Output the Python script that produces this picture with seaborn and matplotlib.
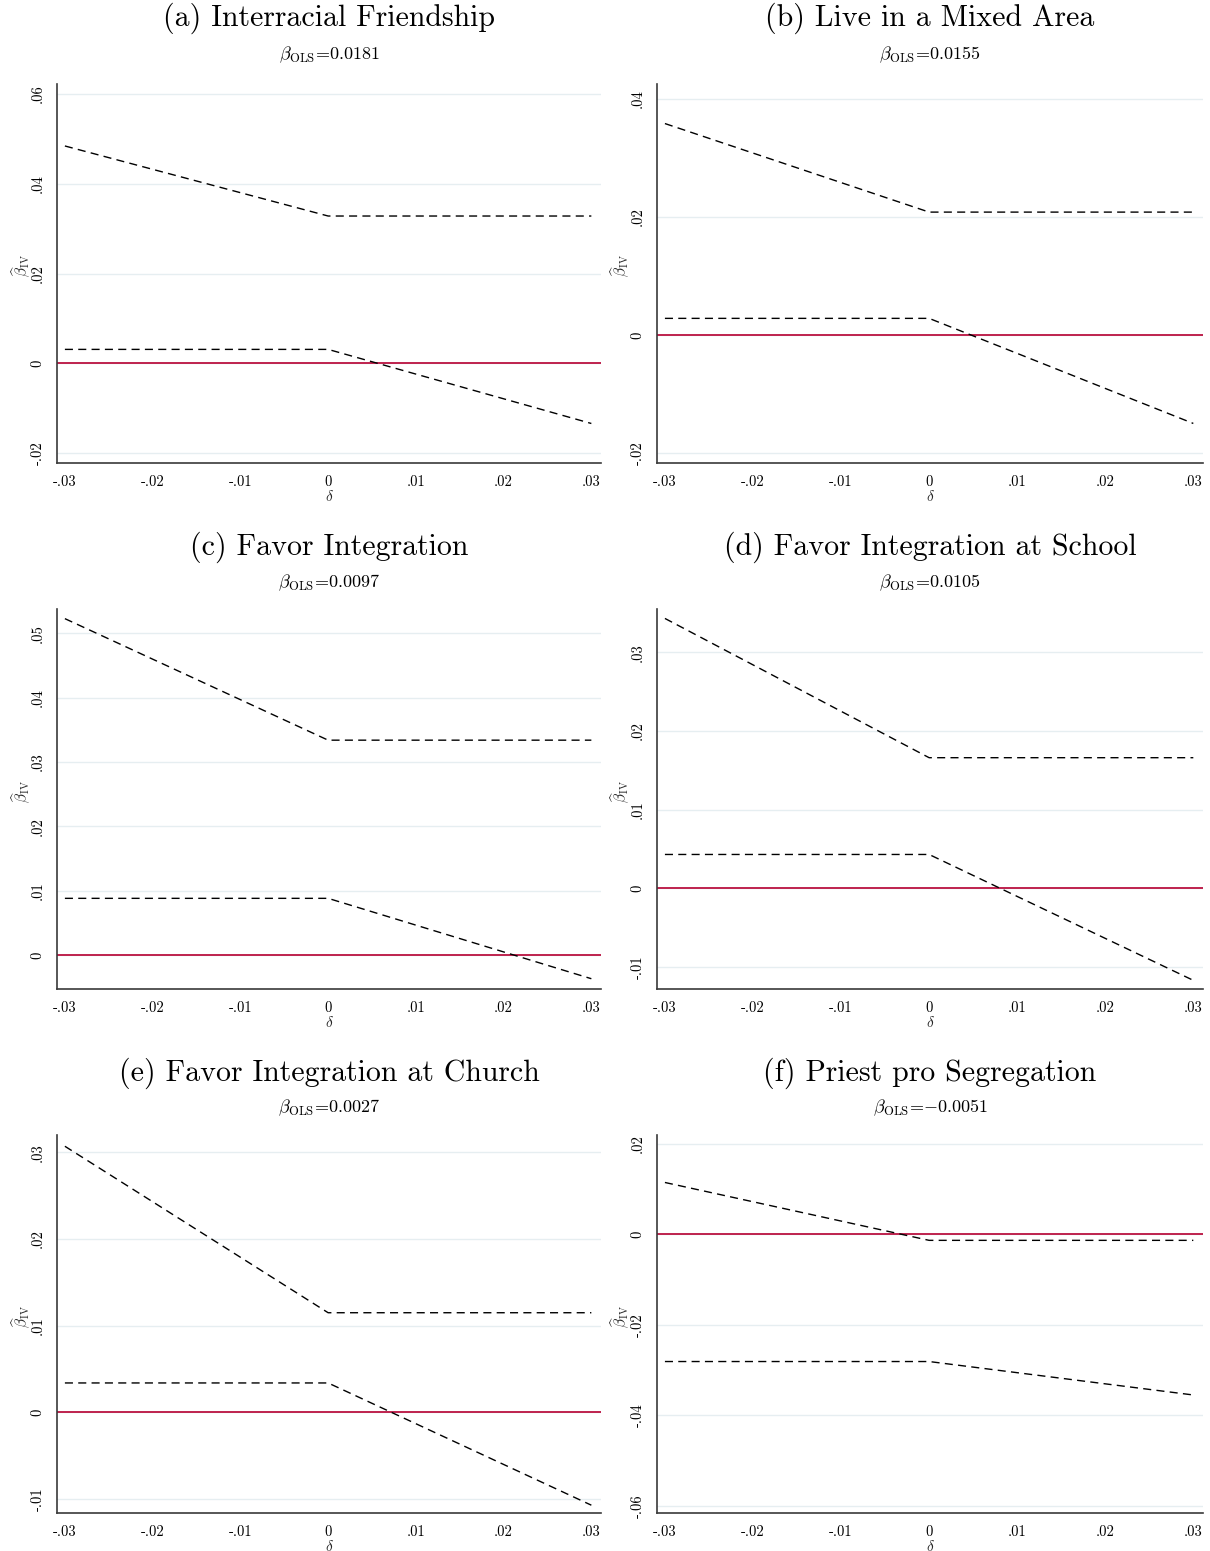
import numpy as np
import pandas as pd
import matplotlib
matplotlib.use("Agg")
import matplotlib.pyplot as plt
import seaborn as sns

# ---- data -------------------------------------------------------------
delta = [-0.03, 0.0, 0.03]

titles = ["(a) Interracial Friendship", "(b) Live in a Mixed Area",
          "(c) Favor Integration", "(d) Favor Integration at School",
          "(e) Favor Integration at Church", "(f) Priest pro Segregation"]
beta_ols = ["0.0181", "0.0155", "0.0097", "0.0105", "0.0027", "-0.0051"]

upper_a = [0.0484, 0.0328, 0.0328]
lower_a = [0.0031, 0.0031, -0.0134]
upper_b = [0.0358, 0.0208, 0.0208]
lower_b = [0.0028, 0.0028, -0.0150]
upper_c = [0.0523, 0.0334, 0.0334]
lower_c = [0.0088, 0.0088, -0.0037]
upper_d = [0.0343, 0.0166, 0.0166]
lower_d = [0.0043, 0.0043, -0.0117]
upper_e = [0.0307, 0.0115, 0.0115]
lower_e = [0.0034, 0.0034, -0.0107]
upper_f = [0.0115, -0.0013, -0.0013]
lower_f = [-0.0281, -0.0281, -0.0355]

xticks = [-0.03, -0.02, -0.01, 0.0, 0.01, 0.02, 0.03]
xtick_labels = ["-.03", "-.02", "-.01", "0", ".01", ".02", ".03"]

yticks_a = [-0.02, 0.0, 0.02, 0.04, 0.06]
ylabels_a = ["-.02", "0", ".02", ".04", ".06"]
yticks_b = [-0.02, 0.0, 0.02, 0.04]
ylabels_b = ["-.02", "0", ".02", ".04"]
yticks_c = [0.0, 0.01, 0.02, 0.03, 0.04, 0.05]
ylabels_c = ["0", ".01", ".02", ".03", ".04", ".05"]
yticks_d = [-0.01, 0.0, 0.01, 0.02, 0.03]
ylabels_d = ["-.01", "0", ".01", ".02", ".03"]
yticks_e = [-0.01, 0.0, 0.01, 0.02, 0.03]
ylabels_e = ["-.01", "0", ".01", ".02", ".03"]
yticks_f = [-0.06, -0.04, -0.02, 0.0, 0.02]
ylabels_f = ["-.06", "-.04", "-.02", "0", ".02"]

ylims = [(-0.0222, 0.0622), (-0.0217, 0.0425), (-0.0053, 0.0538),
         (-0.0128, 0.0355), (-0.0116, 0.0320), (-0.0616, 0.0220)]

uppers = [upper_a, upper_b, upper_c, upper_d, upper_e, upper_f]
lowers = [lower_a, lower_b, lower_c, lower_d, lower_e, lower_f]
ytick_sets = [yticks_a, yticks_b, yticks_c, yticks_d, yticks_e, yticks_f]
ylabel_sets = [ylabels_a, ylabels_b, ylabels_c, ylabels_d, ylabels_e, ylabels_f]

# ---- style ------------------------------------------------------------
sns.set_style("white")
plt.rcParams["font.family"] = ["cmr10", "DejaVu Serif"]
plt.rcParams["mathtext.fontset"] = "cm"
plt.rcParams["axes.unicode_minus"] = False
plt.rcParams["axes.formatter.use_mathtext"] = True

W, H = 1210, 1551
fig = plt.figure(figsize=(W / 100, H / 100), dpi=100)

cols = [(57, 601), (657, 1203)]
rows = [(84, 463), (609, 989), (1135, 1513)]
title_y = [18, 547, 1073]
sub_y = [55, 583, 1108]

spine_col = "#3a3a3a"
grid_col = "#e6eef1"
red = "#ba1240"

for i in range(6):
    r, c = divmod(i, 2)
    x0, x1 = cols[c]
    top, bot = rows[r]
    ax = fig.add_axes([x0 / W, 1 - bot / H, (x1 - x0) / W, (bot - top) / H])

    df = pd.DataFrame({
        "delta": delta * 2,
        "beta": uppers[i] + lowers[i],
        "bound": ["upper"] * 3 + ["lower"] * 3,
    })
    for b in ["upper", "lower"]:
        sns.lineplot(data=df[df["bound"] == b], x="delta", y="beta", ax=ax,
                     color="black", lw=1.0, linestyle=(0, (5.8, 3.8)),
                     estimator=None, sort=False, zorder=3)
    ax.axhline(0, color=red, lw=1.3, zorder=2)

    ax.set_xlim(-0.0309, 0.0311)
    ax.set_ylim(*ylims[i])
    ax.set_xticks(xticks, xtick_labels)
    ax.set_yticks(ytick_sets[i], ylabel_sets[i], rotation=90, va="center")
    ax.tick_params(axis="both", direction="out", length=5, width=1.0,
                   color=spine_col, labelsize=10.5, pad=4, labelcolor="black")
    ax.yaxis.grid(True, color=grid_col, lw=1.0, zorder=0)
    ax.xaxis.grid(False)
    for s in ["top", "right"]:
        ax.spines[s].set_visible(False)
    for s in ["left", "bottom"]:
        ax.spines[s].set_color(spine_col)
        ax.spines[s].set_linewidth(1.2)

    ax.set_xlabel(r"$\delta$", fontsize=11, labelpad=0)
    ax.set_ylabel(r"$\widehat{\beta}_{\mathrm{IV}}$", fontsize=11, va="center")
    ax.yaxis.set_label_coords(-0.066, 0.52)

    xc = (x0 + x1) / 2 / W
    fig.text(xc, 1 - title_y[r] / H, titles[i], ha="center", va="center",
             fontsize=21.5, color="black")
    val = beta_ols[i]
    if val.startswith("-"):
        sub = r"$\beta_{\mathrm{OLS}}$=$-$" + val[1:]
    else:
        sub = r"$\beta_{\mathrm{OLS}}$=" + val
    fig.text(xc, 1 - sub_y[r] / H, sub, ha="center", va="center",
             fontsize=13, color="black")

fig.savefig("out.png", dpi=100, facecolor="white")
